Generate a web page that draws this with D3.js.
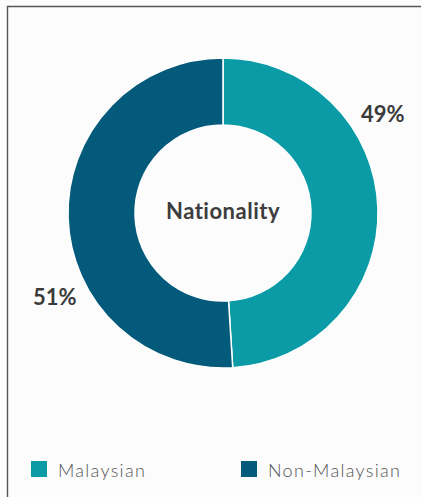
<!DOCTYPE html>
<html>
<head>
<meta charset="utf-8">
<script src="https://cdn.jsdelivr.net/npm/d3@7"></script>
<style>
  html, body { margin: 0; padding: 0; background: #fcfcfc; }
  svg { display: block; font-family: Lato, "Open Sans", sans-serif; }
</style>
</head>
<body>
<svg id="chart" width="421" height="497"></svg>
<script>
// data
const categories = ['Malaysian', 'Non-Malaysian'];
const shares = [49, 51];
const labels = ['49%', '51%'];
const colors = ['#0a9ba7', '#045a7b'];
const title = 'Nationality';

const svg = d3.select('#chart');

// frame (only top and left edges are visible)
svg.append('path')
	.attr('d', 'M7.5,497 V6.5 H421')
	.attr('fill', 'none')
	.attr('stroke', '#555')
	.attr('stroke-width', 1.4);

const cx = 223, cy = 213;
const outerR = 155, innerR = 88;

const pie = d3.pie().sort(null).value((d) => d)(shares);
const arc = d3.arc().innerRadius(innerR).outerRadius(outerR);

const g = svg.append('g').attr('transform', `translate(${cx},${cy})`);

g.selectAll('path.slice')
	.data(pie)
	.join('path')
	.attr('class', 'slice')
	.attr('d', arc)
	.attr('fill', (d, i) => colors[i])
	.attr('stroke', '#fff')
	.attr('stroke-width', 1.5);

// percentage labels sit outside the ring, about a third of the way into each slice
const labelR = 188;
const labelAt = [0.33, 0.365];
g.selectAll('text.pct')
	.data(pie)
	.join('text')
	.attr('class', 'pct')
	.attr('transform', (d, i) => {
		const a = d.startAngle + (d.endAngle - d.startAngle) * labelAt[i];
		return `translate(${Math.sin(a) * labelR},${-Math.cos(a) * labelR})`;
	})
	.attr('text-anchor', 'middle')
	.attr('dy', '0.35em')
	.attr('font-size', 22)
	.attr('font-weight', 700)
	.attr('fill', '#3b3b3b')
	.text((d, i) => labels[i]);

g.append('text')
	.attr('text-anchor', 'middle')
	.attr('dy', '0.25em')
	.attr('font-size', 22)
	.attr('font-weight', 700)
	.attr('letter-spacing', 0.5)
	.attr('fill', '#3d3d3d')
	.text(title);

// legend
const legendX = d3.scaleOrdinal().domain(categories).range([31, 241]);
const legend = svg.selectAll('g.legend')
	.data(categories)
	.join('g')
	.attr('class', 'legend')
	.attr('transform', (d) => `translate(${legendX(d)},461)`);

legend.append('rect')
	.attr('width', 16)
	.attr('height', 16)
	.attr('fill', (d, i) => colors[i]);

legend.append('text')
	.attr('x', 27)
	.attr('y', 15.5)
	.attr('font-size', 18)
	.attr('font-weight', 300)
	.attr('letter-spacing', 1.3)
	.attr('fill', '#555')
	.text((d) => d);
</script>
</body>
</html>
